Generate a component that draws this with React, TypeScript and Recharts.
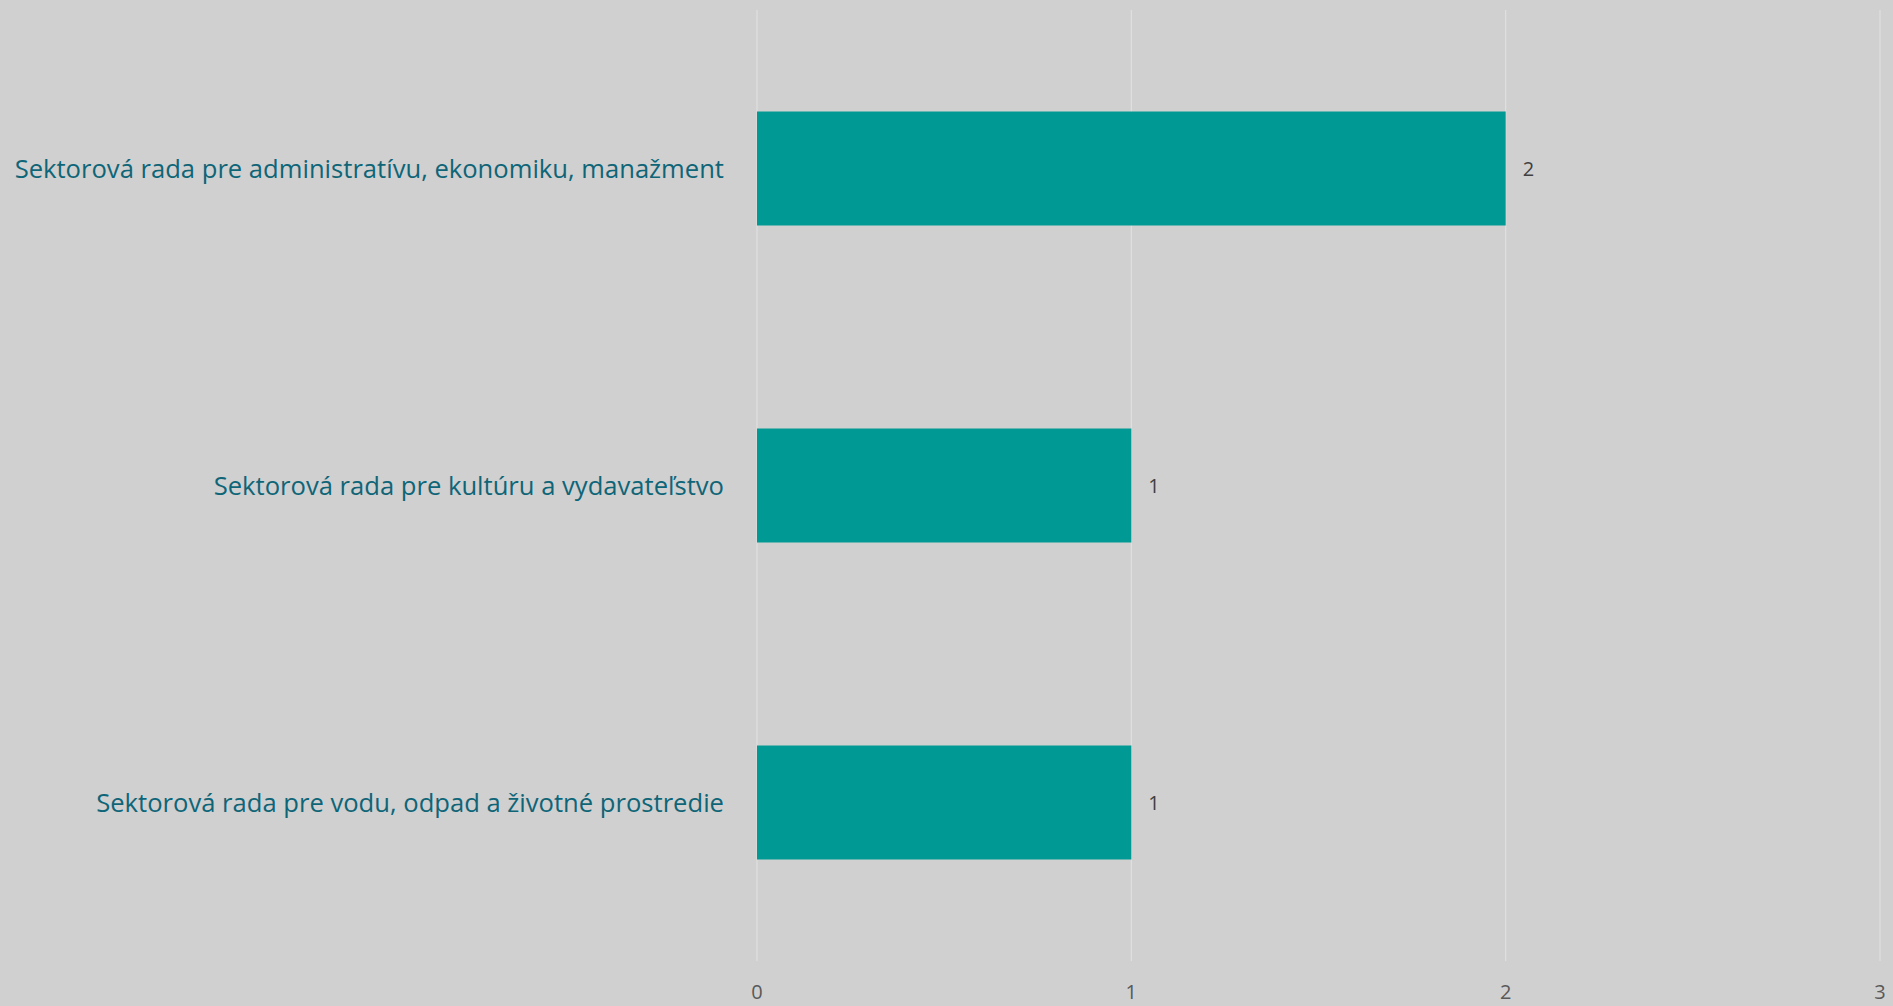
import React from 'react';
import { BarChart, Bar, XAxis, YAxis, CartesianGrid, LabelList } from 'recharts';

const categories = [
  'Sektorová rada pre administratívu, ekonomiku, manažment',
  'Sektorová rada pre kultúru a vydavateľstvo',
  'Sektorová rada pre vodu, odpad a životné prostredie',
];
const counts = [2, 1, 1];
const xTicks = [0, 1, 2, 3];

const data = categories.map((name, i) => ({ name, value: counts[i] }));

export default function App() {
  return (
    <div style={{ position: 'absolute', left: 0, top: 0, width: 1893, height: 1006, background: '#d0d0d0' }}>
      <style>{`body { margin: 0; }`}</style>
      <BarChart
        width={1893}
        height={1006}
        data={data}
        layout="vertical"
        margin={{ top: 10, right: 13, left: 0, bottom: 0 }}
        barCategoryGap="32%"
      >
        <CartesianGrid horizontal={false} stroke="#e0e0e0" strokeWidth={1.2} />
        <XAxis
          type="number"
          domain={[0, 3]}
          ticks={xTicks}
          axisLine={false}
          tickLine={false}
          tickMargin={18}
          height={45}
          tick={{ fontSize: 20, fill: '#595959', fontFamily: 'Open Sans' }}
        />
        <YAxis
          type="category"
          dataKey="name"
          width={757}
          axisLine={false}
          tickLine={false}
          tickMargin={27}
          tick={{ fontSize: 25.6, fill: '#0e6577', fontFamily: 'Open Sans' }}
        />
        <Bar dataKey="value" fill="#009994" isAnimationActive={false}>
          <LabelList
            dataKey="value"
            position="right"
            offset={17}
            style={{ fontSize: 20, fill: '#404040', fontFamily: 'Open Sans' }}
          />
        </Bar>
      </BarChart>
    </div>
  );
}
